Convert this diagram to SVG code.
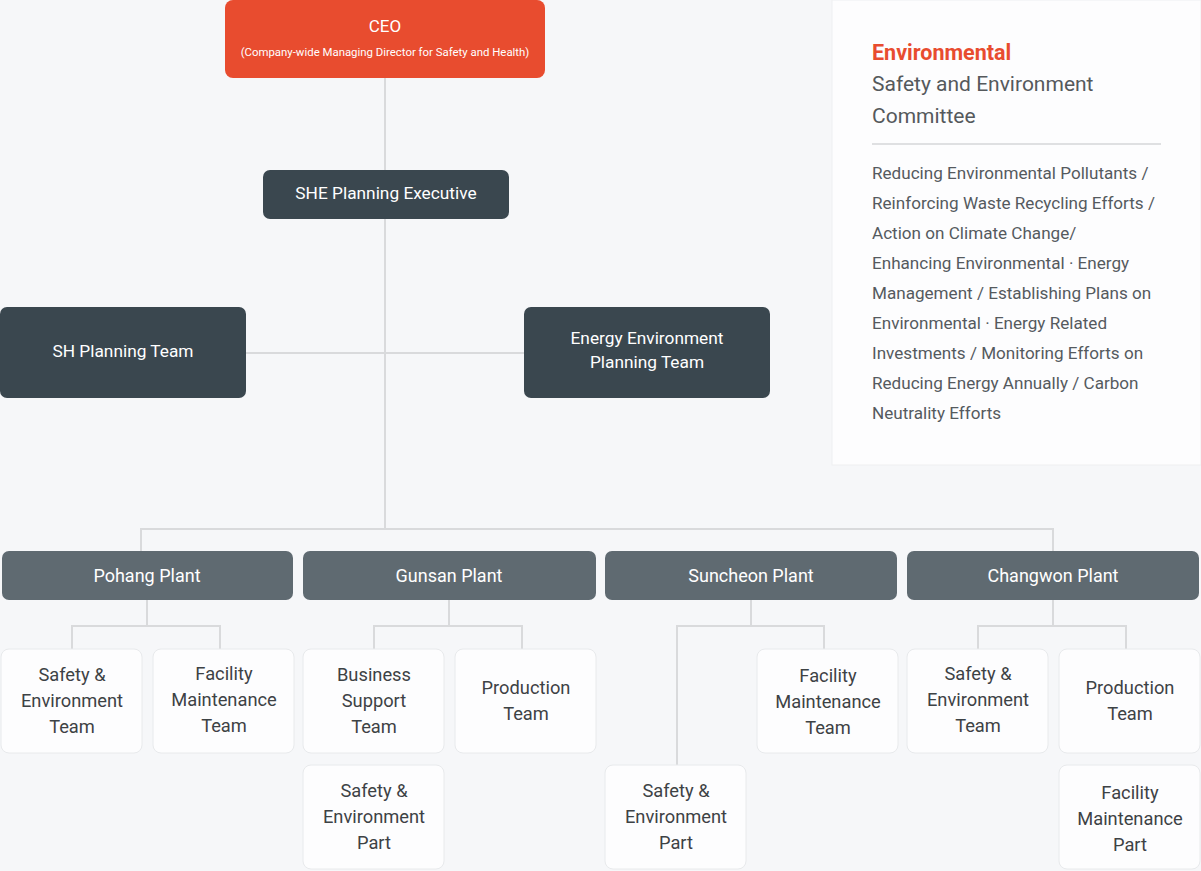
<svg xmlns="http://www.w3.org/2000/svg" width="1201" height="871" viewBox="0 0 1201 871">
<style>
text{font-family:Roboto,"Liberation Sans",sans-serif;text-anchor:middle;dominant-baseline:central}
.w{fill:#ffffff}
.dark{fill:#3a474f}
.plant{fill:#5f6a71}
.sub{fill:#fdfdfe;stroke:#e8eaec;stroke-width:1}
.st{fill:#3d4245;font-size:18.3px}
.dn{font-size:17.3px}
.pl{font-size:18px}
.con{fill:none;stroke:#d9dadc;stroke-width:2}
.body{fill:#555a5e;font-size:17.1px;text-anchor:start}
</style>
<rect width="1201" height="871" fill="#f6f7f9"/>
<g id="connectors">
<path class="con" d="M385 78V528"/>
<path class="con" d="M246 353H524"/>
<path class="con" d="M141 551V529H1053V551"/>
<path class="con" d="M147 600V626M72 649V626H220V649"/>
<path class="con" d="M449 600V626M374 649V626H522V649"/>
<path class="con" d="M751 600V626M677 765V626H824V649"/>
<path class="con" d="M1053 600V626M978 649V626H1126V649"/>
</g>
<g id="ceo">
<rect x="225" y="0" width="320" height="78" rx="8" fill="#e84c2f"/>
<text x="385" y="26" class="w" font-size="17">CEO</text>
<text x="385" y="52" class="w" font-size="11.4">(Company-wide Managing Director for Safety and Health)</text>
</g>
<g id="she">
<rect x="263" y="170" width="246" height="49" rx="7" class="dark"/>
<text x="386" y="193" class="w dn">SHE Planning Executive</text>
</g>
<g id="sh-team">
<rect x="0" y="307" width="246" height="91" rx="7" class="dark"/>
<text x="123" y="351" class="w dn">SH Planning Team</text>
</g>
<g id="ee-team">
<rect x="524" y="307" width="246" height="91" rx="7" class="dark"/>
<text x="647" y="338" class="w dn">Energy Environment</text>
<text x="647" y="362" class="w dn">Planning Team</text>
</g>
<g id="committee">
<rect x="832" y="0" width="369" height="465" fill="#fdfdfe" stroke="#eeeff1" stroke-width="1"/>
<text x="872" y="52" font-size="21.5" font-weight="bold" fill="#e84c2f" style="text-anchor:start">Environmental</text>
<text x="872" y="84" font-size="21" fill="#55595c" style="text-anchor:start">Safety and Environment</text>
<text x="872" y="116" font-size="21" fill="#55595c" style="text-anchor:start">Committee</text>
<line x1="872" y1="144" x2="1161" y2="144" stroke="#dfe0e2" stroke-width="2"/>
<text x="872" y="173" class="body">Reducing Environmental Pollutants /</text>
<text x="872" y="203" class="body">Reinforcing Waste Recycling Efforts /</text>
<text x="872" y="233" class="body">Action on Climate Change/</text>
<text x="872" y="263" class="body">Enhancing Environmental · Energy</text>
<text x="872" y="293" class="body">Management / Establishing Plans on</text>
<text x="872" y="323" class="body">Environmental · Energy Related</text>
<text x="872" y="353" class="body">Investments / Monitoring Efforts on</text>
<text x="872" y="383" class="body">Reducing Energy Annually / Carbon</text>
<text x="872" y="413" class="body">Neutrality Efforts</text>
</g>
<g id="pohang">
<rect x="2" y="551" width="291" height="49" rx="7" class="plant"/>
<text x="147" y="575" class="w pl">Pohang Plant</text>
</g>
<g id="gunsan">
<rect x="303" y="551" width="293" height="49" rx="7" class="plant"/>
<text x="449" y="575" class="w pl">Gunsan Plant</text>
</g>
<g id="suncheon">
<rect x="605" y="551" width="292" height="49" rx="7" class="plant"/>
<text x="751" y="575" class="w pl">Suncheon Plant</text>
</g>
<g id="changwon">
<rect x="907" y="551" width="292" height="49" rx="7" class="plant"/>
<text x="1053" y="575" class="w pl">Changwon Plant</text>
</g>
<g id="pohang-se">
<rect x="1" y="649" width="141" height="104" rx="8" class="sub"/>
<text x="72" y="674" class="st">Safety &amp;</text>
<text x="72" y="700" class="st">Environment</text>
<text x="72" y="726" class="st">Team</text>
</g>
<g id="pohang-fm">
<rect x="153" y="649" width="141" height="104" rx="8" class="sub"/>
<text x="224" y="673" class="st">Facility</text>
<text x="224" y="699" class="st">Maintenance</text>
<text x="224" y="725" class="st">Team</text>
</g>
<g id="gunsan-bs">
<rect x="303" y="649" width="141" height="104" rx="8" class="sub"/>
<text x="374" y="674" class="st">Business</text>
<text x="374" y="700" class="st">Support</text>
<text x="374" y="726" class="st">Team</text>
</g>
<g id="gunsan-prod">
<rect x="455" y="649" width="141" height="104" rx="8" class="sub"/>
<text x="526" y="687" class="st">Production</text>
<text x="526" y="713" class="st">Team</text>
</g>
<g id="gunsan-se">
<rect x="303" y="765" width="141" height="104" rx="8" class="sub"/>
<text x="374" y="790" class="st">Safety &amp;</text>
<text x="374" y="816" class="st">Environment</text>
<text x="374" y="842" class="st">Part</text>
</g>
<g id="suncheon-fm">
<rect x="757" y="649" width="141" height="104" rx="8" class="sub"/>
<text x="828" y="675" class="st">Facility</text>
<text x="828" y="701" class="st">Maintenance</text>
<text x="828" y="727" class="st">Team</text>
</g>
<g id="suncheon-se">
<rect x="605" y="765" width="141" height="104" rx="8" class="sub"/>
<text x="676" y="790" class="st">Safety &amp;</text>
<text x="676" y="816" class="st">Environment</text>
<text x="676" y="842" class="st">Part</text>
</g>
<g id="changwon-se">
<rect x="907" y="649" width="141" height="104" rx="8" class="sub"/>
<text x="978" y="673" class="st">Safety &amp;</text>
<text x="978" y="699" class="st">Environment</text>
<text x="978" y="725" class="st">Team</text>
</g>
<g id="changwon-prod">
<rect x="1059" y="649" width="141" height="104" rx="8" class="sub"/>
<text x="1130" y="687" class="st">Production</text>
<text x="1130" y="713" class="st">Team</text>
</g>
<g id="changwon-fm">
<rect x="1059" y="765" width="141" height="104" rx="8" class="sub"/>
<text x="1130" y="792" class="st">Facility</text>
<text x="1130" y="818" class="st">Maintenance</text>
<text x="1130" y="844" class="st">Part</text>
</g>
</svg>
